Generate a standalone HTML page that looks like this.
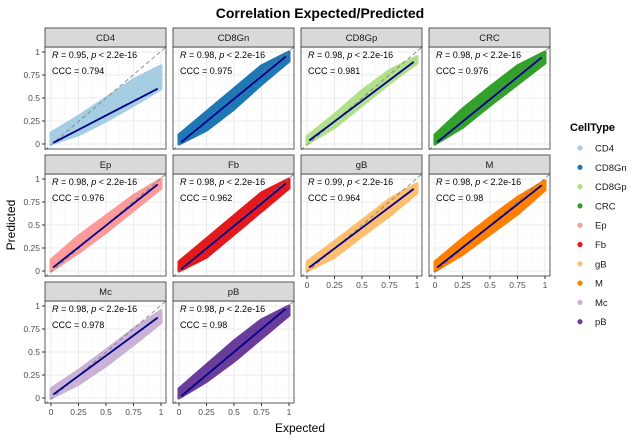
<!DOCTYPE html>
<html><head><meta charset="utf-8"><style>
body{margin:0;background:#fff}
svg text{font-family:"Liberation Sans",sans-serif}
</style></head><body>
<svg id="c" width="640" height="440" viewBox="0 0 640 440" xmlns="http://www.w3.org/2000/svg">
<text x="320" y="18" text-anchor="middle" font-size="14" font-weight="bold" fill="#000">Correlation Expected/Predicted</text>
<text x="300" y="432" text-anchor="middle" font-size="12">Expected</text>
<text transform="translate(15,225) rotate(-90)" text-anchor="middle" font-size="12">Predicted</text>
<g id="panels"></g>
<g id="legend"></g>
</svg>
<script>
const cellTypes=["CD4","CD8Gn","CD8Gp","CRC","Ep","Fb","gB","M","Mc","pB"];
const colors=["#a6cee3","#1f78b4","#b2df8a","#33a02c","#fb9a99","#e31a1c","#fdbf6f","#ff7f00","#cab2d6","#6a3d9a"];
const rValues=["0.95","0.98","0.98","0.98","0.98","0.98","0.99","0.98","0.98","0.98"];
const cccValues=["0.794","0.975","0.981","0.976","0.976","0.962","0.964","0.98","0.978","0.98"];
const fitIntercept=[0.0,0.0,0.02,0.0,0.02,0.0,0.02,0.02,0.02,0.0];
const fitSlope=[0.62,0.98,0.9,0.97,0.95,0.98,0.9,0.94,0.88,1.0];
const bandX=[0,0.25,0.5,0.75,1];
const bandLow=[[0,.1,.25,.42,.6],[0,.15,.38,.65,.9],[0,.18,.42,.66,.88],[0,.18,.42,.65,.88],[0,.2,.42,.66,.9],[0,.15,.4,.65,.9],[0,.15,.38,.6,.85],[0,.18,.4,.62,.88],[0,.15,.35,.58,.82],[0,.18,.4,.65,.9]];
const bandHigh=[[.12,.3,.5,.7,.85],[.1,.35,.6,.85,1],[.08,.32,.58,.8,.95],[.1,.38,.62,.85,1],[.12,.38,.6,.82,1],[.1,.35,.6,.85,1],[.1,.32,.55,.78,.95],[.1,.35,.58,.8,.98],[.1,.3,.52,.75,.95],[.1,.36,.62,.85,1]];
const tickVals=[0,0.25,0.5,0.75,1];
const tickLabels=["0","0.25","0.5","0.75","1"];
const NS="http://www.w3.org/2000/svg";
function mk(tag,attrs,parent){const e=document.createElementNS(NS,tag);for(const k in attrs)e.setAttribute(k,attrs[k]);parent.appendChild(e);return e;}
const P=document.getElementById('panels');
const colL=[45,173,301,429],rowT=[47,174,301],PW=121,PH=102,SH=19;
cellTypes.forEach((name,i)=>{
  const c=i%4,r=Math.floor(i/4);const L=colL[c],T=rowT[r];
  const sx=v=>L+6+v*110, sy=v=>T+97-v*92;
  const g=mk('g',{},P);
  
  
  mk('rect',{x:L,y:T,width:PW,height:PH,fill:'#fff'},g);
  for(let k=0;k<4;k++){const m=(tickVals[k]+tickVals[k+1])/2;
    mk('line',{x1:sx(m),x2:sx(m),y1:T,y2:T+PH,stroke:'#f5f5f5','stroke-width':0.5},g);
    mk('line',{x1:L,x2:L+PW,y1:sy(m),y2:sy(m),stroke:'#f5f5f5','stroke-width':0.5},g);}
  tickVals.forEach(v=>{mk('line',{x1:sx(v),x2:sx(v),y1:T,y2:T+PH,stroke:'#ebebeb','stroke-width':1},g);
    mk('line',{x1:L,x2:L+PW,y1:sy(v),y2:sy(v),stroke:'#ebebeb','stroke-width':1},g);});
  let pts=bandX.map((x,k)=>sx(x)+','+sy(bandLow[i][k]));
  for(let k=bandX.length-1;k>=0;k--)pts.push(sx(bandX[k])+','+sy(bandHigh[i][k]));
  const band=mk('polygon',{points:pts.join(' '),fill:colors[i],stroke:colors[i],'stroke-width':3,'stroke-linejoin':'round'},g);
  
  
  const d=mk('line',{x1:L,y1:sy(-6/92),x2:L+PW,y2:T,stroke:'#777','stroke-dasharray':'4,3','stroke-width':0.8},g);
  
  
  const x0=0.02,x1=0.97;
  const fl=mk('line',{x1:sx(x0),y1:sy(fitIntercept[i]+fitSlope[i]*x0),x2:sx(x1),y2:sy(fitIntercept[i]+fitSlope[i]*x1),stroke:'#00008b','stroke-width':1.8},g);
  
  
  mk('rect',{x:L,y:T,width:PW,height:PH,fill:'none',stroke:'#333','stroke-width':0.8},g);
  mk('rect',{x:L,y:T-SH,width:PW,height:SH,fill:'#d9d9d9',stroke:'#333','stroke-width':0.8},g);
  const st=mk('text',{x:L+PW/2,y:T-6,'text-anchor':'middle','font-size':9.5,fill:'#1a1a1a'},g);st.textContent=name;
  
  
  const t1=mk('text',{x:L+7,y:T+11,'font-size':9},g);
  t1.innerHTML='<tspan font-style="italic">R</tspan> = '+rValues[i]+', <tspan font-style="italic">p</tspan> &lt; 2.2e-16';
  
  
  const t2=mk('text',{x:L+7,y:T+27,'font-size':9},g);t2.textContent='CCC = '+cccValues[i];
  
  
  if(c===0){tickVals.forEach((v,k)=>{mk('line',{x1:L-3,x2:L,y1:sy(v),y2:sy(v),stroke:'#333'},g);
    const t=mk('text',{x:L-5,y:sy(v)+3,'text-anchor':'end','font-size':8.5,fill:'#4d4d4d'},g);t.textContent=tickLabels[k];});}
  if(r===2||(r===1&&c>=2)){tickVals.forEach((v,k)=>{mk('line',{x1:sx(v),x2:sx(v),y1:T+PH,y2:T+PH+3,stroke:'#333'},g);
    const t=mk('text',{x:sx(v),y:T+PH+12,'text-anchor':'middle','font-size':8.5,fill:'#4d4d4d'},g);t.textContent=tickLabels[k];});}
});
const G=document.getElementById('legend');
const lt=mk('text',{x:570,y:131,'font-size':11,'font-weight':'bold'},G);lt.textContent='CellType';


cellTypes.forEach((n,i)=>{const y=148+i*19.3;
  const e=mk('g',{},G);
  
  
  mk('circle',{cx:580,cy:y,r:2.6,fill:colors[i]},e);
  const t=mk('text',{x:595,y:y+3.5,'font-size':9.5,fill:'#1a1a1a'},e);t.textContent=n;});
</script>
</body></html>
